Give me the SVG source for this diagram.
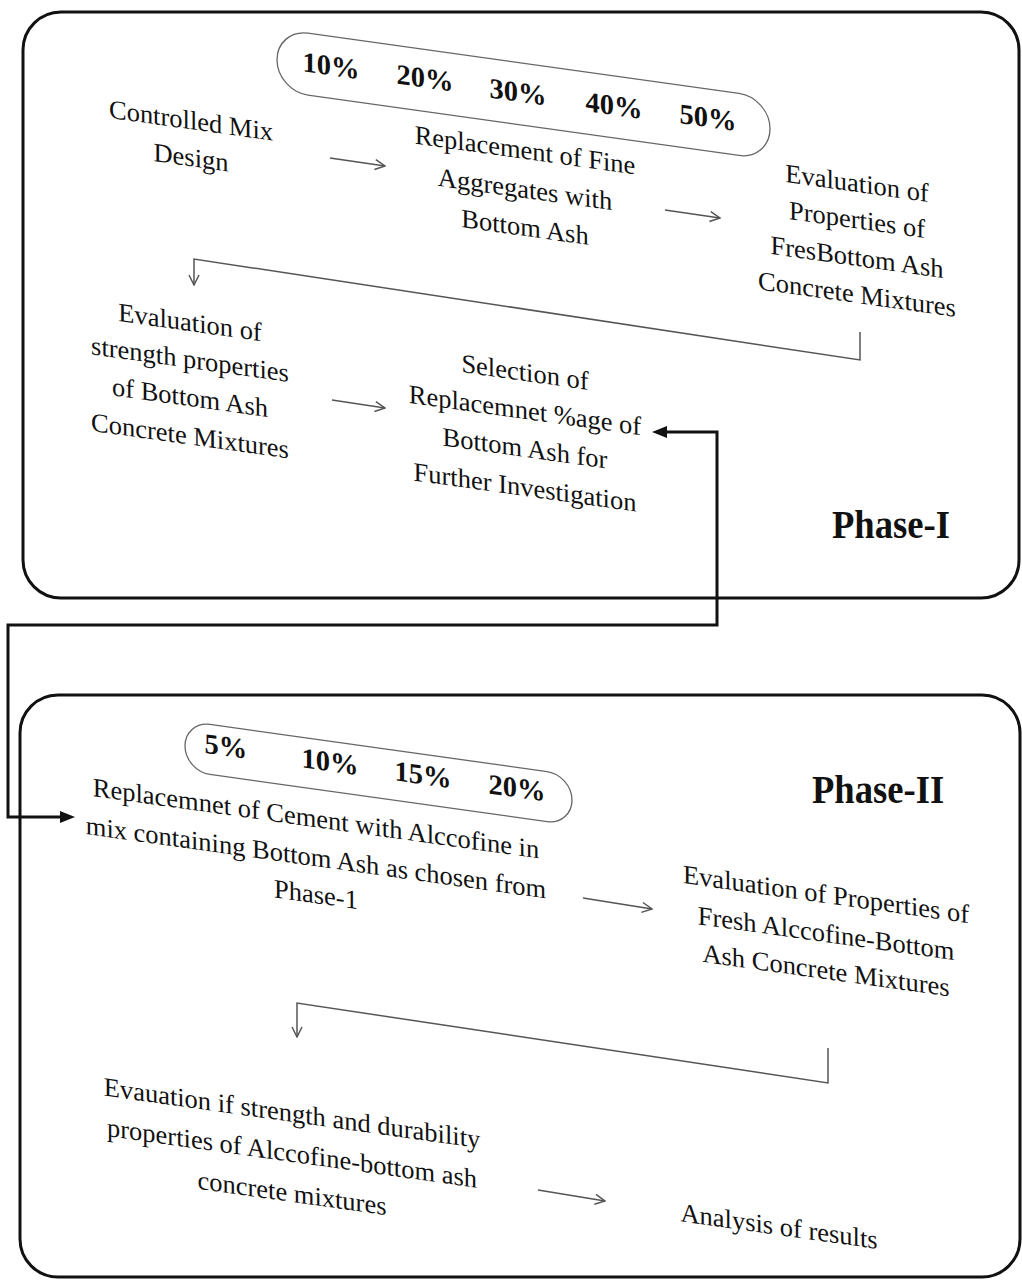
<svg xmlns="http://www.w3.org/2000/svg" width="1022" height="1280" viewBox="0 0 1022 1280">
<style>
.t{font-family:"Liberation Serif","Times New Roman",serif;font-size:26.5px;fill:#111;text-anchor:middle}
.p{font-family:"Liberation Serif","Times New Roman",serif;font-weight:bold;font-size:28.5px;fill:#111;text-anchor:middle}
.ph{font-family:"Liberation Serif","Times New Roman",serif;font-weight:bold;font-size:40px;fill:#111}
.frame{fill:none;stroke:#111;stroke-width:3}
.pill{fill:none;stroke:#666;stroke-width:1.3}
.thin{fill:none;stroke:#555;stroke-width:1.5}
.thick{fill:none;stroke:#111;stroke-width:3}
.head{fill:#111}
</style>
<defs>
<marker id="chev" viewBox="0 0 12 12" refX="11" refY="6" markerWidth="12" markerHeight="12" markerUnits="userSpaceOnUse" orient="auto">
<path d="M1,1 L11,6 L1,11" fill="none" stroke="#555" stroke-width="1.5"/>
</marker>
</defs>
<rect width="1022" height="1280" fill="#fff"/>
<g id="frames">
<rect id="phase1-frame" class="frame" x="23" y="12" width="996" height="586" rx="38"/>
<rect id="phase2-frame" class="frame" x="20" y="695" width="1000" height="582" rx="38"/>
</g>
<g id="pills" transform="matrix(1 0.14 0 1 0 0)">
<g id="pill1">
<rect class="pill" x="277" y="-10" width="493" height="62" rx="31"/>
<text class="p" x="331" y="29">10%</text>
<text class="p" x="425" y="28">20%</text>
<text class="p" x="518" y="29">30%</text>
<text class="p" x="614" y="29">40%</text>
<text class="p" x="708" y="28">50%</text>
</g>
<g id="pill2">
<rect class="pill" x="185" y="695" width="387" height="50" rx="25"/>
<text class="p" x="226" y="724">5%</text>
<text class="p" x="330" y="725">10%</text>
<text class="p" x="423" y="725">15%</text>
<text class="p" x="517" y="725">20%</text>
</g>
</g>
<g id="n1" transform="matrix(1 0.14 0 1 0 0)">
<text class="t" x="191" y="102.5">Controlled Mix</text>
<text class="t" x="191" y="139.5">Design</text>
</g>
<g id="n2" transform="matrix(1 0.14 0 1 0 0)">
<text class="t" x="525" y="85.5">Replacement of Fine</text>
<text class="t" x="525" y="124.5">Aggregates with</text>
<text class="t" x="525" y="162.5">Bottom Ash</text>
</g>
<g id="n3" transform="matrix(1 0.14 0 1 0 0)">
<text class="t" x="857" y="72">Evaluation of</text>
<text class="t" x="857" y="108.5">Properties of</text>
<text class="t" x="857" y="146">FresBottom Ash</text>
<text class="t" x="857" y="183">Concrete Mixtures</text>
</g>
<g id="n4" transform="matrix(1 0.14 0 1 0 0)">
<text class="t" x="190" y="304.5">Evaluation of</text>
<text class="t" x="190" y="341.5">strength properties</text>
<text class="t" x="190" y="379.5">of Bottom Ash</text>
<text class="t" x="190" y="418">Concrete Mixtures</text>
</g>
<g id="n5" transform="matrix(1 0.14 0 1 0 0)">
<text class="t" x="525" y="307.5">Selection of</text>
<text class="t" x="525" y="345.5">Replacemnet %age of</text>
<text class="t" x="525" y="383.5">Bottom Ash for</text>
<text class="t" x="525" y="422.5">Further Investigation</text>
</g>
<g id="phase1-label" transform="translate(832 538) scale(0.915 1)"><text class="ph" x="0" y="0">Phase-I</text></g>
<g id="n6" transform="matrix(1 0.14 0 1 0 0)">
<text class="t" x="316" y="783">Replacemnet of Cement with Alccofine in</text>
<text class="t" x="316" y="822">mix containing Bottom Ash as chosen from</text>
<text class="t" x="316" y="859">Phase-1</text>
</g>
<g id="n7" transform="matrix(1 0.14 0 1 0 0)">
<text class="t" x="826" y="787.5">Evaluation of Properties of</text>
<text class="t" x="826" y="826.5">Fresh Alccofine-Bottom</text>
<text class="t" x="826" y="863.5">Ash Concrete Mixtures</text>
</g>
<g id="phase2-label" transform="translate(812 803) scale(0.915 1)"><text class="ph" x="0" y="0">Phase-II</text></g>
<g id="n8" transform="matrix(1 0.14 0 1 0 0)">
<text class="t" x="292" y="1081">Evauation if strength and durability</text>
<text class="t" x="292" y="1121">properties of Alccofine-bottom ash</text>
<text class="t" x="292" y="1161">concrete mixtures</text>
</g>
<g id="n9" transform="matrix(1 0.14 0 1 0 0)">
<text class="t" x="779" y="1126">Analysis of results</text>
</g>
<g id="connectors">
<path class="thin" d="M330 158 L385 166" marker-end="url(#chev)"/>
<path class="thin" d="M665 210 L720 218" marker-end="url(#chev)"/>
<path class="thin" d="M860 332 V360 L194 259 V285" marker-end="url(#chev)"/>
<path class="thin" d="M332 400 L385 408" marker-end="url(#chev)"/>
<path class="thin" d="M583 898 L652 909" marker-end="url(#chev)"/>
<path class="thin" d="M828 1048 V1083 L297 1003 V1037" marker-end="url(#chev)"/>
<path class="thin" d="M538 1190 L605 1201" marker-end="url(#chev)"/>
<path class="thick" d="M665 432 H717 V625 H8 V817 H62"/>
<polygon class="head" points="652,432 667,426 667,438"/>
<polygon class="head" points="75,817 60,811 60,823"/>
</g>
</svg>
